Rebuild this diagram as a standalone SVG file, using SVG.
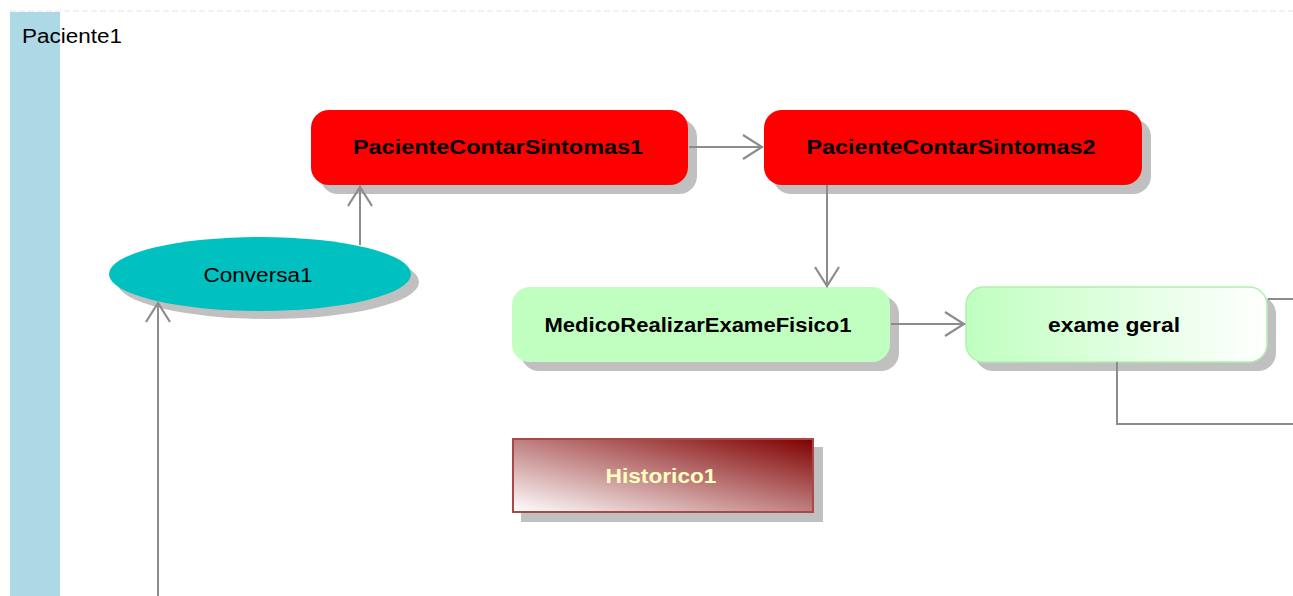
<svg xmlns="http://www.w3.org/2000/svg" width="1293" height="596" viewBox="0 0 1293 596">
<style>
.lbl{font-family:"Liberation Sans",Arial,sans-serif;font-size:20px;font-weight:bold;fill:#000;text-anchor:middle}
.reg{font-family:"Liberation Sans",Arial,sans-serif;font-size:20px;fill:#000}
.shadow{fill:#c0c0c0}
.conn{stroke:#8c8c8c;stroke-width:2;fill:none}
</style>
<defs>
<marker id="arr" viewBox="0 0 22 28" refX="21" refY="14" markerWidth="22" markerHeight="28" markerUnits="userSpaceOnUse" orient="auto">
<path d="M1,2 L20,14 L1,26" fill="none" stroke="#8c8c8c" stroke-width="2.2"/>
</marker>
<linearGradient id="gGreen" x1="0" y1="0" x2="1" y2="0">
<stop offset="0" stop-color="#c0ffc0"/>
<stop offset="1" stop-color="#ffffff"/>
</linearGradient>
<linearGradient id="gHist" x1="1" y1="0" x2="0" y2="1">
<stop offset="0" stop-color="#800000"/>
<stop offset="1" stop-color="#ffffff"/>
</linearGradient>
</defs>
<rect width="1293" height="596" fill="#fff"/>
<line x1="10" y1="11" x2="1293" y2="11" stroke="#e4e4e4" stroke-width="1" stroke-dasharray="6,3"/>
<g id="lane-Paciente1">
<rect x="10" y="12" width="50" height="584" fill="#add8e6"/>
<text class="reg" x="22" y="43" textLength="100" lengthAdjust="spacingAndGlyphs">Paciente1</text>
</g>
<g id="node-Conversa1">
<ellipse class="shadow" cx="268" cy="282" rx="151" ry="37"/>
<ellipse cx="260" cy="274" rx="151" ry="37" fill="#00c0c0"/>
<text class="reg" x="258" y="282" text-anchor="middle" textLength="109" lengthAdjust="spacingAndGlyphs">Conversa1</text>
</g>
<g id="node-PacienteContarSintomas1">
<rect class="shadow" x="320" y="119" width="377" height="75" rx="18"/>
<rect x="311" y="110" width="377" height="75" rx="18" fill="#ff0000"/>
<text class="lbl" x="498" y="154" textLength="290" lengthAdjust="spacingAndGlyphs">PacienteContarSintomas1</text>
</g>
<g id="node-PacienteContarSintomas2">
<rect class="shadow" x="773" y="119" width="378" height="75" rx="18"/>
<rect x="764" y="110" width="378" height="75" rx="18" fill="#ff0000"/>
<text class="lbl" x="951" y="154" textLength="289" lengthAdjust="spacingAndGlyphs">PacienteContarSintomas2</text>
</g>
<g id="node-MedicoRealizarExameFisico1">
<rect class="shadow" x="521" y="296" width="378" height="75" rx="18"/>
<rect x="512" y="287" width="378" height="75" rx="18" fill="#c0ffc0"/>
<text class="lbl" x="698" y="332" textLength="307" lengthAdjust="spacingAndGlyphs">MedicoRealizarExameFisico1</text>
</g>
<g id="node-exame-geral">
<rect class="shadow" x="975" y="296" width="301" height="75" rx="18"/>
<rect x="966" y="287" width="301" height="75" rx="18" fill="url(#gGreen)" stroke="#b0f0b0" stroke-width="1.5"/>
<text class="lbl" x="1114" y="332" textLength="132" lengthAdjust="spacingAndGlyphs">exame geral</text>
</g>
<g id="node-Historico1">
<rect class="shadow" x="521" y="447" width="302" height="75"/>
<rect x="513" y="439" width="300" height="73" fill="url(#gHist)" stroke="#a84848" stroke-width="2"/>
<text class="lbl" x="661" y="483" style="fill:#ffffc0" textLength="111" lengthAdjust="spacingAndGlyphs">Historico1</text>
</g>
<g id="connectors">
<line class="conn" x1="689" y1="147" x2="763" y2="147" marker-end="url(#arr)"/>
<line class="conn" x1="360" y1="245" x2="360" y2="186" marker-end="url(#arr)"/>
<line class="conn" x1="158" y1="596" x2="158" y2="302" marker-end="url(#arr)"/>
<line class="conn" x1="827" y1="185" x2="827" y2="287" marker-end="url(#arr)"/>
<line class="conn" x1="891" y1="324" x2="965" y2="324" marker-end="url(#arr)"/>
<polyline class="conn" points="1268,299 1293,299"/>
<polyline class="conn" points="1117,362 1117,424 1293,424"/>
</g>
</svg>
